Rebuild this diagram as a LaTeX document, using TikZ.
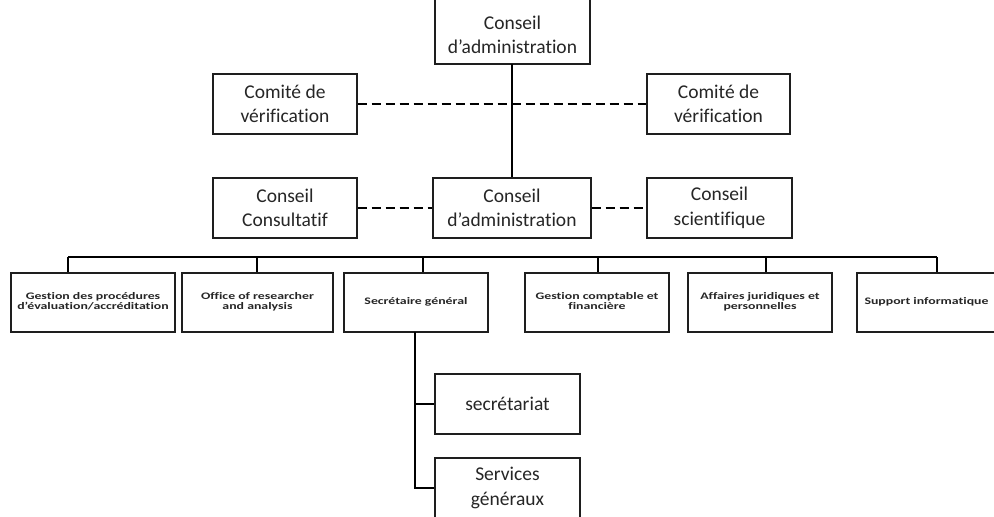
\documentclass[tikz,border=0pt]{standalone}
\usepackage{fontspec}
\setmainfont{Carlito}[Ligatures={TeX,NoCommon}]
\usepackage{graphicx}
\definecolor{ink}{HTML}{262626}
\definecolor{edge}{HTML}{1E1E1E}
\newcommand{\smalltxt}[1]{\scalebox{1.38}[1]{\fontsize{10}{10}\selectfont\bfseries\begin{tabular}{@{}c@{}}#1\end{tabular}}}
\begin{document}
\begin{tikzpicture}[x=1pt,y=-1pt,
  box/.style={draw=edge, line width=1.1pt, rectangle, inner sep=0pt, text=ink, align=center,
    font=\fontsize{19.5}{24.5}\selectfont},
  sbox/.style={draw=edge, line width=1.1pt, rectangle, inner sep=0pt, text=ink,
    minimum height=59pt},
  txt/.style={inner sep=0pt, text=ink, align=center, font=\fontsize{19.5}{24.5}\selectfont},
  conn/.style={draw=black, line width=1.1pt},
  dashconn/.style={draw=black, line width=1.1pt, dash pattern=on 9pt off 5pt}]
\fill[white] (0,0) rectangle (994,517);
\clip (0,0) rectangle (994,517);
% top
\node[box, minimum width=155pt, minimum height=72pt] (top) at (512.5,28) {};
\node[txt] (toptxt) at (512.5,35) {Conseil\\d'administration};
% comites
\node[box, minimum width=144pt, minimum height=60pt] (comL) at (285,104) {Comité de\\vérification};
\node[box, minimum width=143pt, minimum height=60pt] (comR) at (718.5,104) {Comité de\\vérification};
% middle row
\node[box, minimum width=144pt, minimum height=60pt] (consL) at (285,208) {Conseil\\Consultatif};
\node[box, minimum width=158pt, minimum height=60pt] (mid) at (512,208) {Conseil\\d'administration};
\node[box, minimum width=145pt, minimum height=60pt] (sci) at (719.5,208) {Conseil\\scientifique};
% connectors top part
\coordinate (vx) at (512,64);
\draw[conn] (vx) -- (vx |- mid.north);
\draw[dashconn] (comL.east) -- (comR.west);
\draw[dashconn] (consL.east) -- (mid.west);
\draw[dashconn] (mid.east) -- (sci.west);
% bottom row
\node[sbox, minimum width=164pt] (b1) at (93,302.5) {\smalltxt{Gestion des procédures\\d'évaluation/accréditation}};
\node[sbox, minimum width=151pt] (b2) at (257.5,302.5) {\smalltxt{Office of researcher\\and analysis}};
\node[sbox, minimum width=144pt] (b3) at (416,302.5) {\smalltxt{Secrétaire général}};
\node[sbox, minimum width=144pt] (b4) at (597,302.5) {\smalltxt{Gestion comptable et\\financière}};
\node[sbox, minimum width=144pt] (b5) at (760,302.5) {\smalltxt{Affaires juridiques et\\personnelles}};
\node[sbox, minimum width=139pt] (b6) at (926.5,302.5) {\smalltxt{Support informatique}};
\coordinate (s1) at (68,257);
\coordinate (s2) at (257,257);
\coordinate (s3) at (423,257);
\coordinate (s4) at (598,257);
\coordinate (s5) at (766,257);
\coordinate (s6) at (937,257);
\draw[conn] (s1) -- (s6);
\draw[conn] (s1) -- (s1 |- b1.north);
\draw[conn] (s2) -- (s2 |- b2.north);
\draw[conn] (s3) -- (s3 |- b3.north);
\draw[conn] (s4) -- (s4 |- b4.north);
\draw[conn] (s5) -- (s5 |- b5.north);
\draw[conn] (s6) -- (s6 |- b6.north);
% secretariat branch
\node[box, minimum width=145pt, minimum height=60pt] (sec) at (507.5,404) {secrétariat};
\node[box, minimum width=145pt, minimum height=60pt] (serv) at (507.5,488) {Services\\généraux};
\coordinate (sg) at (415,332);
\draw[conn] (sg) |- (sec.west);
\draw[conn] (sg) |- (serv.west);
\end{tikzpicture}
\end{document}
